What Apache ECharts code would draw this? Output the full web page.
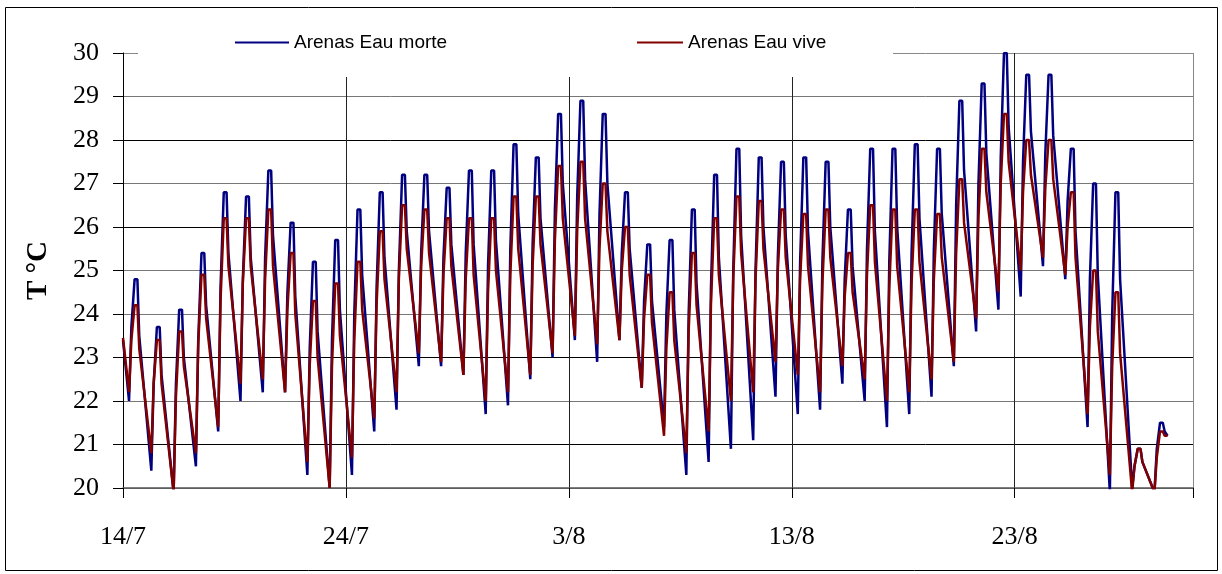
<!DOCTYPE html>
<html><head><meta charset="utf-8">
<script src="https://cdn.jsdelivr.net/npm/echarts@6/dist/echarts.min.js"></script>
<style>html,body{margin:0;padding:0;background:#fff}#c{width:1222px;height:574px}</style>
</head><body><div id="c"></div>
<script>
// ---- data ----
const seriesNames = ['Arenas Eau morte', 'Arenas Eau vive'];
const xTickLabels = ['14/7', '24/7', '3/8', '13/8', '23/8'];   // every 10 days from 14/7
// hour of day of each daily reading: trough, morning rise, peak start, peak end, evening fall
const sampleHours = [6.5, 9, 12.5, 15.5, 17.5];
// Arenas Eau morte (blue)
const morteStart = 23.4;
const morteMin  = [22.0,20.4,19.9,20.5,21.3,22.0,22.2,22.2,20.3,20.0,20.3,21.3,21.8,22.8,22.8,22.6,21.7,21.9,22.5,23.0,23.4,22.9,23.4,22.3,21.4,20.3,20.6,20.9,21.1,22.1,21.7,21.8,22.4,22.0,21.4,21.7,22.1,22.8,23.6,24.1,24.4,25.1,24.8,21.4,19.9,20.0,19.9];
const morteRise = [23.7,22.4,22.4,23.4,24.6,24.8,25.3,24.5,23.2,23.4,24.0,24.6,25.0,25.4,25.3,25.4,25.1,25.5,25.6,26.4,26.7,26.3,25.4,24.3,24.0,24.0,24.6,25.0,25.0,25.3,25.2,25.2,24.8,25.5,25.2,25.4,25.5,26.5,27.0,27.6,27.5,27.7,26.6,24.8,24.0,20.5,20.9];
const morteMax  = [24.8,23.7,24.1,25.4,26.8,26.7,27.3,26.1,25.2,25.7,26.4,26.8,27.2,27.2,26.9,27.3,27.3,27.9,27.6,28.6,28.9,28.6,26.8,25.6,25.7,26.4,27.2,27.8,27.6,27.5,27.6,27.5,26.4,27.8,27.8,27.9,27.8,28.9,29.3,30.0,29.5,29.5,27.8,27.0,26.8,20.9,21.5];
const morteFall = [23.5,22.6,23.0,24.2,25.4,25.3,25.8,24.4,23.6,24.1,24.9,25.3,25.9,25.9,25.6,25.6,25.7,26.3,26.2,27.0,27.1,27.0,25.5,24.3,24.1,24.7,25.3,25.8,26.0,25.8,25.9,26.0,25.1,25.9,26.0,26.2,26.3,27.3,27.7,28.3,28.2,28.1,25.9,24.9,24.8,20.6,21.3];
const morteEnd = [46.86, 21.2];
// Arenas Eau vive (red)
const viveStart = 23.45;
const viveMin  = [22.2,20.8,19.9,20.8,21.4,22.4,22.5,22.2,20.6,20.0,20.7,21.6,22.2,23.1,22.9,22.6,22.0,22.2,22.6,23.1,23.5,23.3,23.4,22.3,21.2,20.8,21.3,22.0,22.2,22.9,22.6,22.2,22.8,22.5,22.0,22.2,22.5,22.9,23.9,24.5,25.0,25.3,24.9,21.7,20.3,19.9,19.9];
const viveRise = [23.4,22.4,22.1,23.3,24.3,24.7,24.8,24.1,22.8,22.8,23.4,24.2,24.8,25.1,24.9,24.8,24.5,24.9,25.1,25.7,25.9,25.5,25.0,23.9,23.2,23.6,24.2,24.8,24.8,25.0,24.8,24.7,24.4,24.9,24.6,24.7,24.8,25.4,26.2,27.0,26.8,26.9,26.0,23.7,22.8,20.5,20.7];
const viveMax  = [24.2,23.4,23.6,24.9,26.2,26.2,26.4,25.4,24.3,24.7,25.2,25.9,26.5,26.4,26.2,26.2,26.2,26.7,26.7,27.4,27.5,27.0,26.0,24.9,24.5,25.4,26.2,26.7,26.6,26.4,26.3,26.4,25.4,26.5,26.4,26.4,26.3,27.1,27.8,28.6,28.0,28.0,26.8,25.0,24.5,20.9,21.3];
const viveFall = [23.2,22.4,22.8,23.9,25.1,25.1,25.1,24.0,23.0,23.5,24.1,24.8,25.5,25.4,25.1,24.9,25.0,25.5,25.6,26.2,26.2,25.9,24.9,23.8,23.4,24.2,24.9,25.4,25.5,25.3,25.1,25.3,24.5,25.2,25.1,25.2,25.3,26.1,26.8,27.5,27.2,27.1,25.3,23.6,23.1,20.6,21.2];
const viveEnd = [46.86, 21.2];

function build(start, mins, rises, maxs, falls, end) {
  const out = [[0, start]];
  for (let d = 0; d < mins.length; d++) {
    out.push([d + sampleHours[0] / 24, mins[d]]);
    out.push([d + sampleHours[1] / 24, rises[d]]);
    out.push([d + sampleHours[2] / 24, maxs[d]]);
    out.push([d + sampleHours[3] / 24, maxs[d]]);
    out.push([d + sampleHours[4] / 24, falls[d]]);
  }
  out.push(end);
  return out;
}
const morteData = build(morteStart, morteMin, morteRise, morteMax, morteFall, morteEnd);
const viveData = build(viveStart, viveMin, viveRise, viveMax, viveFall, viveEnd);

const chart = echarts.init(document.getElementById('c'), null, {renderer: 'canvas'});
const serif = 'Liberation Serif';
const sans = 'Liberation Sans';
chart.setOption({
  animation: false,
  backgroundColor: '#fff',
  grid: {left: 123, right: 29, top: 53, bottom: 86},
  legend: [
    {data: [seriesNames[0]], left: 235, top: 33, padding: 0, icon: 'rect', itemWidth: 54, itemHeight: 2,
     textStyle: {fontFamily: sans, fontSize: 19, color: '#000'}},
    {data: [seriesNames[1]], left: 637, top: 33, padding: 0, icon: 'rect', itemWidth: 46, itemHeight: 2,
     textStyle: {fontFamily: sans, fontSize: 19, color: '#000'}}
  ],
  xAxis: {
    type: 'value', min: 0, max: 48, interval: 10,
    axisLine: {lineStyle: {color: '#555', width: 1.5}},
    axisTick: {show: true, length: 10, lineStyle: {color: '#000'}},
    axisLabel: {
      margin: 36, fontFamily: serif, fontSize: 26, color: '#000',
      formatter: v => (v % 10 === 0 ? xTickLabels[v / 10] || '' : '')
    },
    splitLine: {show: true, lineStyle: {color: ['#222','#222','#222','#222','#222','#888'], width: 1}}
  },
  yAxis: {
    type: 'value', min: 20, max: 30, interval: 1,
    name: 'T °C', nameLocation: 'middle', nameGap: 70, nameRotate: 90,
    nameTextStyle: {fontFamily: serif, fontSize: 29, fontWeight: 'bold', color: '#000'},
    axisLine: {show: true, lineStyle: {color: '#000', width: 1}},
    axisTick: {show: true, length: 10, lineStyle: {color: '#000'}},
    axisLabel: {margin: 24, fontFamily: serif, fontSize: 26, color: '#000'},
    splitLine: {show: true, lineStyle: {color: ['#777','#000','#777','#000','#777','#777','#000','#777','#000','#777','#888'], width: 1}}
  },
  graphic: [
    {type: 'rect', z: 1, shape: {x: 138, y: 25, width: 755, height: 52}, style: {fill: '#fff'}},
    {type: 'rect', z: 10, shape: {x: 5.5, y: 7.5, width: 1212, height: 563}, style: {fill: null, stroke: '#000', lineWidth: 1}}
  ],
  series: [
    {name: seriesNames[0], type: 'line', data: morteData, symbol: 'none', z: 2,
     lineStyle: {color: '#000080', width: 2.5}, itemStyle: {color: '#000080'}},
    {name: seriesNames[1], type: 'line', data: viveData, symbol: 'none', z: 3,
     lineStyle: {color: '#800000', width: 2.5}, itemStyle: {color: '#800000'}}
  ]
});
</script></body></html>
